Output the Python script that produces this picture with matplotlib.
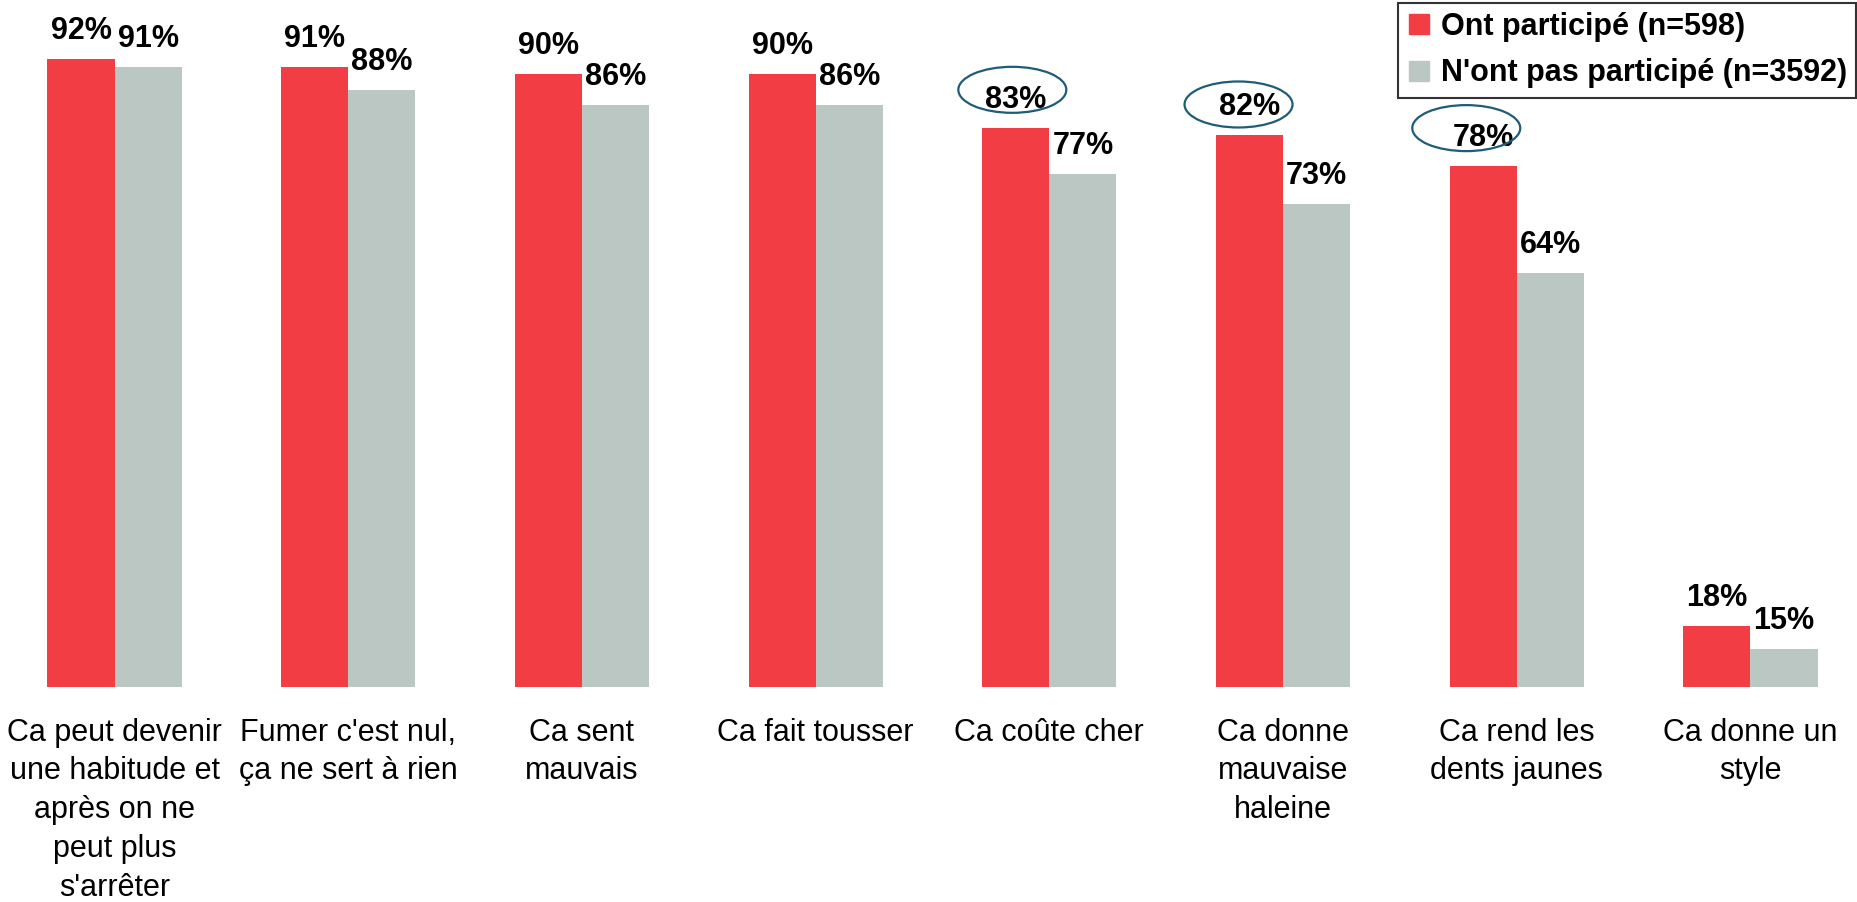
import matplotlib
matplotlib.use("Agg")
import matplotlib.pyplot as plt
from matplotlib import transforms
from matplotlib.patches import Ellipse
from matplotlib.lines import Line2D

categories = [
    "Ca peut devenir\nune habitude et\naprès on ne\npeut plus\ns'arrêter",
    "Fumer c'est nul,\nça ne sert à rien",
    "Ca sent\nmauvais",
    "Ca fait tousser",
    "Ca coûte cher",
    "Ca donne\nmauvaise\nhaleine",
    "Ca rend les\ndents jaunes",
    "Ca donne un\nstyle",
]
participated = [92, 91, 90, 90, 83, 82, 78, 18]
not_participated = [91, 88, 86, 86, 77, 73, 64, 15]
series_names = ["Ont participé (n=598)", "N'ont pas participé (n=3592)"]
circled = [4, 5, 6]

# hand-drawn ellipse offsets (inches, relative to top-centre of the red bar)
ellipse_offsets = [(-0.035, 0.38), (-0.11, 0.31), (-0.17, 0.38)]

RED = "#F23D45"
GREY = "#BAC7C3"
TEAL = "#1E5C78"
FONT = "Liberation Sans"

fig = plt.figure(figsize=(18.58, 9.02), dpi=100)
ax = fig.add_axes([0, 215 / 902, 1, 687 / 902])
ax.set_xlim(-0.49, 7.46)
ax.set_ylim(10, 10 + 687 / 7.66)

w = 0.287
x = list(range(len(categories)))
xr = [i - w / 2 for i in x]
xg = [i + w / 2 for i in x]
ax.bar(xr, participated, width=w, color=RED)
ax.bar(xg, not_participated, width=w, color=GREY)

off = 20 * 72 / 100
for i in x:
    ax.annotate(f"{participated[i]}%", (xr[i], participated[i]), xytext=(0, off),
                textcoords="offset points", ha="center", va="baseline",
                fontsize=22, fontweight="bold", family=FONT)
    ax.annotate(f"{not_participated[i]}%", (xg[i], not_participated[i]), xytext=(0, off),
                textcoords="offset points", ha="center", va="baseline",
                fontsize=22, fontweight="bold", family=FONT)

for i, (dx, dy) in zip(circled, ellipse_offsets):
    trans = fig.dpi_scale_trans + transforms.ScaledTranslation(xr[i], participated[i], ax.transData)
    e = Ellipse((dx, dy), 1.08, 0.46, transform=trans, fill=False,
                edgecolor=TEAL, linewidth=1.6, clip_on=False)
    fig.add_artist(e)

ax.set_xticks(x)
ax.set_xticklabels(categories, fontsize=22, family=FONT, linespacing=1.38)
ax.tick_params(axis="x", length=0, pad=22)
ax.set_yticks([])
for s in ax.spines.values():
    s.set_visible(False)

handles = [Line2D([], [], marker="s", linestyle="none", markersize=14.5, color=RED),
           Line2D([], [], marker="s", linestyle="none", markersize=14.5, color=GREY)]
leg = fig.legend(handles, series_names, loc="upper right",
                 bbox_to_anchor=(1856 / 1858, 1 - 3 / 902),
                 prop={"family": FONT, "weight": "bold", "size": 22},
                 frameon=True, fancybox=False, handlelength=0.8, handletextpad=0.3,
                 borderpad=0.3, labelspacing=0.53, borderaxespad=0)
leg.get_frame().set_edgecolor("black")
leg.get_frame().set_linewidth(1.5)

fig.savefig("out.png", dpi=100)
